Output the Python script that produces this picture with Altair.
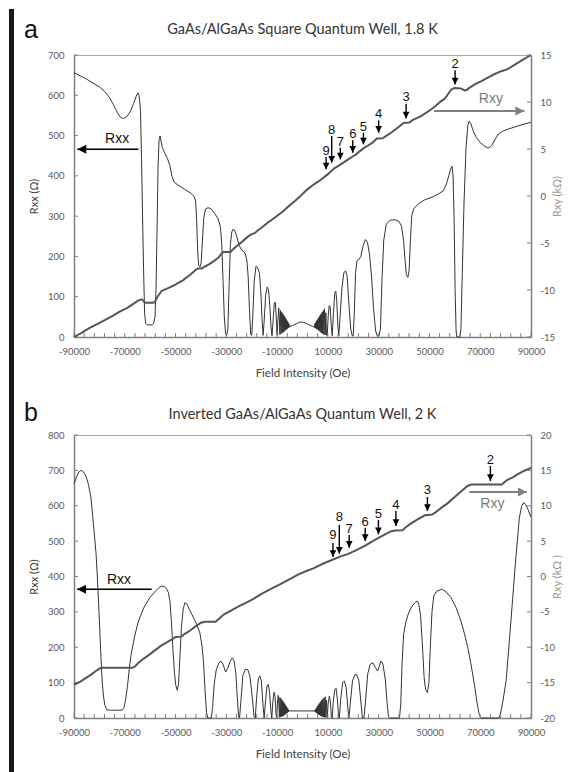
import altair as alt
import pandas as pd

FONT = "Lato"
ARIAL = "Liberation Sans"
AXC = "#7f7f7f"
W = 457
H_A = 282
H_B = 283

X_DOMAIN = [-90000, 90000]
X_LABELS = [-90000, -70000, -50000, -30000, -10000, 10000, 30000, 50000, 70000, 90000]
X_TICKS = list(range(-90000, 90001, 4000))

A_RXX_TICKS = [0, 100, 200, 300, 400, 500, 600, 700]
A_RXY_TICKS = [-15, -10, -5, 0, 5, 10, 15]
B_RXX_TICKS = [0, 100, 200, 300, 400, 500, 600, 700, 800]
B_RXY_TICKS = [-20, -15, -10, -5, 0, 5, 10, 15, 20]

# ---------------- Panel a: Rxx (ohm) vs field (Oe) ----------------
A_RXX = [
    (-90000, 656), (-87500, 648), (-85000, 640), (-82500, 630), (-80000, 621), (-78000, 610),
    (-76200, 596), (-74500, 577), (-73000, 558), (-71800, 546), (-70500, 542), (-69200, 547),
    (-67800, 560), (-66500, 580), (-65500, 598), (-64800, 606), (-64300, 598), (-63800, 560),
    (-63400, 440), (-63000, 300), (-62600, 170), (-62200, 60), (-61800, 34), (-61200, 30),
    (-59200, 30), (-58600, 34), (-58100, 50), (-57700, 120), (-57300, 260), (-56900, 420),
    (-56500, 490), (-56100, 499), (-55700, 486), (-55200, 470), (-54300, 457), (-53200, 443),
    (-52200, 425), (-51400, 398), (-50500, 384), (-49000, 377), (-46500, 367), (-44000, 357),
    (-42800, 350), (-42100, 338), (-41700, 290), (-41300, 215), (-40900, 178), (-40400, 174),
    (-39900, 185), (-39400, 240), (-38900, 295), (-38200, 318), (-37200, 321), (-36000, 318),
    (-34600, 307), (-33200, 293), (-32300, 272), (-31800, 230), (-31300, 140), (-30800, 50),
    (-30300, 8), (-29900, 3), (-29400, 20), (-28900, 130), (-28400, 230), (-27800, 262),
    (-27200, 268), (-26600, 262), (-25900, 250), (-25000, 228), (-24000, 216), (-23200, 213),
    (-22500, 206), (-21900, 190), (-21400, 150), (-20900, 70), (-20400, 6), (-20000, 4),
    (-19600, 50), (-19000, 140), (-18300, 176), (-17700, 172), (-17000, 160), (-16400, 110),
    (-15900, 40), (-15500, 4), (-15100, 40), (-14500, 105), (-13900, 124), (-13400, 118),
    (-12900, 80), (-12400, 25), (-12000, 3), (-11600, 40), (-11100, 85), (-10700, 86),
    (-10300, 45), (-10000, 4), (-9700, 40), (-9350, 72), (-9100, 45), (-8900, 6),
    (-8650, 66), (-8420, 8), (-8200, 62), (-7990, 10), (-7790, 58), (-7600, 12), (-7420, 55),
    (-7250, 14), (-7090, 51), (-6940, 16), (-6800, 48), (-6660, 17), (-6530, 45), (-6400, 19),
    (-6280, 42), (-6160, 20), (-6050, 40), (-5940, 21), (-5840, 37), (-5740, 22), (-5650, 35),
    (-5560, 23), (-5470, 33), (-5380, 24), (-5300, 31), (-5220, 25), (-5000, 26), (-4000, 28),
    (-3000, 31), (-2000, 34), (-1000, 37), (0, 37), (1000, 35), (2000, 32), (3000, 29),
    (4000, 26), (4600, 25), (4700, 24), (4780, 31), (4860, 24), (4950, 33), (5040, 23),
    (5140, 35), (5240, 22), (5350, 37), (5460, 21), (5580, 40), (5700, 20), (5830, 42),
    (5960, 19), (6100, 45), (6240, 17), (6390, 48), (6540, 16), (6700, 51), (6860, 14),
    (7030, 55), (7200, 12), (7380, 58), (7570, 10), (7770, 62), (7980, 8), (8200, 66),
    (8430, 6), (8670, 70), (8920, 5), (9200, 60), (9450, 4), (9750, 4), (10100, 50),
    (10500, 78), (10900, 75), (11300, 30), (11700, 3), (12200, 60), (12700, 108), (13100, 114),
    (13500, 90), (13900, 30), (14300, 3), (14800, 50), (15500, 120), (16300, 160), (17000, 164),
    (17600, 150), (18300, 80), (19000, 20), (19600, 3), (20000, 3), (20400, 60), (20900, 160),
    (21500, 190), (22300, 193), (23000, 200), (23800, 225), (24800, 242), (25600, 235),
    (26400, 205), (27200, 150), (28000, 70), (28800, 15), (29500, 2), (30100, 2), (30700, 20),
    (31300, 140), (32000, 240), (33000, 280), (34500, 290), (36500, 291), (38000, 287),
    (39000, 275), (39800, 240), (40400, 190), (40900, 155), (41500, 148), (42000, 165),
    (42500, 240), (43000, 300), (43800, 318), (45500, 330), (48000, 340), (51000, 347),
    (53500, 355), (55500, 363), (56700, 380), (57600, 400), (58400, 418), (58900, 424),
    (59300, 400), (59700, 300), (60100, 120), (60500, 15), (60800, 0), (62000, 0), (62400, 20),
    (62900, 150), (63600, 330), (64400, 470), (65100, 525), (65700, 536), (66300, 530),
    (67200, 512), (68500, 495), (70000, 483), (71500, 475), (72700, 470), (73600, 470),
    (74600, 476), (75800, 490), (77200, 504), (78900, 511), (81000, 516), (84000, 522),
    (87000, 528), (90000, 533),
]

# ---------------- Panel a: Rxy (kohm) vs field (Oe) ----------------
A_RXY = [
    (-90000, -15.0), (-87000, -14.55), (-84000, -14.05), (-80700, -13.6), (-77500, -13.15),
    (-74800, -12.75), (-72000, -12.3), (-69000, -11.9), (-66500, -11.45), (-64600, -11.1),
    (-63300, -11.0), (-62200, -11.3), (-61800, -11.36), (-58600, -11.36), (-58000, -11.2),
    (-57300, -10.8), (-55500, -10.1), (-52500, -9.75), (-49900, -9.4), (-47000, -8.95),
    (-44100, -8.35), (-42000, -7.85), (-41200, -7.7), (-39700, -7.7), (-38500, -7.5),
    (-36700, -7.25), (-34800, -6.9), (-33100, -6.55), (-32000, -6.15), (-31200, -5.96),
    (-28400, -5.96), (-27400, -5.7), (-25800, -5.3), (-23500, -4.8), (-21400, -4.3),
    (-20000, -4.05), (-18800, -3.95), (-17800, -3.7), (-16300, -3.4), (-14000, -2.9),
    (-11900, -2.5), (-9700, -2.05), (-7500, -1.6), (-5300, -1.05), (-3100, -0.55),
    (-1000, -0.05), (1500, 0.6), (4000, 1.15), (6600, 1.6), (9900, 2.3), (12500, 2.94),
    (13500, 3.1), (15800, 3.5), (18000, 3.9), (19800, 4.2), (21100, 4.43), (22500, 4.75),
    (24400, 5.14), (26000, 5.4), (27700, 5.7), (29300, 6.12), (31600, 6.14), (32700, 6.35),
    (34900, 6.73), (37200, 7.2), (39500, 7.69), (40300, 7.8), (42100, 7.82), (43500, 8.1),
    (46700, 8.5), (50600, 9.2), (52500, 9.6), (54600, 10.1), (56200, 10.4), (57200, 10.8),
    (58500, 11.3), (59800, 11.5), (62400, 11.45), (64000, 11.2), (65000, 11.35), (65700, 11.5),
    (68000, 11.9), (70300, 12.2), (73000, 12.6), (75500, 12.95), (78000, 13.25), (80800, 13.5),
    (83500, 13.95), (86500, 14.45), (90000, 15.0),
]

A_ARROW_N = ["9", "8", "7", "6", "5", "4", "3", "2"]
A_ARROW_B = [9300, 11500, 14900, 19800, 24000, 30000, 40800, 60100]
A_ARROW_TOP = [4.15, 6.38, 5.14, 5.92, 6.73, 8.05, 9.82, 13.37]
A_ARROW_TIP = [2.84, 3.54, 3.90, 4.60, 5.50, 6.73, 8.26, 11.88]
A_ARROW_LAB = [4.36, 6.63, 5.32, 6.14, 6.91, 8.26, 10.11, 13.65]

# ---------------- Panel b: Rxx (ohm) vs field (Oe) ----------------
B_RXX = [
    (-90000, 662), (-89000, 682), (-88000, 696), (-87200, 700), (-86300, 696), (-85300, 684),
    (-84300, 660), (-83300, 622), (-82300, 545), (-81300, 463), (-80600, 370), (-80000, 274),
    (-79400, 175), (-78900, 105), (-78400, 62), (-77800, 35), (-77000, 23), (-76000, 22),
    (-71000, 22), (-70300, 30), (-69700, 50), (-69000, 86), (-68200, 140), (-67500, 180),
    (-66000, 235), (-64600, 274), (-62500, 312), (-60200, 340), (-58000, 358), (-56500, 369),
    (-55500, 373), (-54500, 372), (-53600, 366), (-52800, 354), (-52200, 330), (-51600, 270),
    (-51000, 190), (-50400, 125), (-49900, 92), (-49300, 78), (-48800, 98), (-48300, 170),
    (-47700, 255), (-47000, 308), (-46300, 326), (-45500, 322), (-44500, 306), (-43500, 292),
    (-42600, 279), (-41500, 262), (-40400, 240), (-39600, 205), (-39000, 160), (-38400, 80),
    (-37800, 15), (-37300, 0), (-35900, 0), (-35400, 30), (-34800, 95), (-34000, 135),
    (-33000, 155), (-32100, 161), (-31200, 150), (-30300, 130), (-29500, 140), (-28500, 160),
    (-27700, 170), (-27000, 163), (-26300, 130), (-25700, 60), (-25200, 5), (-24800, 0),
    (-24300, 45), (-23500, 120), (-22500, 138), (-21500, 136), (-20700, 118), (-19800, 60),
    (-19100, 5), (-18600, 0), (-18100, 55), (-17400, 110), (-16800, 119), (-16200, 105),
    (-15600, 40), (-15100, 0), (-14600, 45), (-14000, 90), (-13500, 95), (-13000, 75),
    (-12500, 25), (-12100, 0), (-11700, 45), (-11200, 73), (-10800, 60), (-10400, 10),
    (-10150, 0), (-9850, 45), (-9550, 64), (-9300, 35), (-9100, 2),
    (-8870, 58), (-8650, 3), (-8440, 55), (-8240, 4), (-8050, 51), (-7870, 5), (-7700, 47),
    (-7540, 6), (-7390, 44), (-7250, 8), (-7110, 41), (-6980, 9), (-6850, 38), (-6730, 11),
    (-6610, 35), (-6500, 12), (-6390, 32), (-6290, 14), (-6190, 30), (-6090, 15), (-6000, 28),
    (-5910, 16), (-5820, 26), (-5740, 17), (-5660, 24), (-5580, 18), (-5500, 22), (-5400, 19),
    (-5200, 20), (-3000, 20), (0, 20), (3000, 20), (4800, 20), (4900, 22), (4980, 18),
    (5060, 23), (5140, 17), (5230, 25), (5320, 16), (5420, 27), (5520, 15), (5630, 29),
    (5740, 14), (5860, 32), (5980, 12), (6110, 35), (6240, 11), (6380, 38), (6520, 9),
    (6670, 41), (6820, 8), (6980, 44), (7140, 6), (7310, 47), (7480, 5), (7660, 51),
    (7850, 4), (8050, 54), (8260, 3), (8480, 57), (8710, 2), (8950, 60), (9200, 2),
    (9470, 50), (9750, 1), (10100, 40), (10600, 62), (11000, 45), (11400, 3), (11700, 0),
    (12100, 45), (12700, 80), (13200, 84), (13700, 55), (14200, 5), (14500, 0), (15000, 50),
    (15800, 100), (16500, 105), (17200, 85), (17900, 25), (18300, 0), (18800, 40),
    (19700, 105), (20600, 122), (21300, 123), (22200, 105), (23000, 45), (23600, 0),
    (24200, 0), (24800, 45), (25700, 125), (26700, 152), (27700, 156), (28700, 143),
    (29600, 133), (30300, 148), (30900, 161), (31700, 152), (32600, 110), (33300, 45),
    (33900, 2), (34300, 0), (38200, 0), (38700, 40), (39200, 150), (39800, 235), (40600, 268),
    (41600, 293), (43000, 315), (44300, 326), (45100, 331), (45800, 322), (46500, 290),
    (47200, 210), (47900, 115), (48500, 80), (49200, 72), (49800, 100), (50400, 210),
    (51000, 300), (51700, 345), (52800, 358), (54800, 364), (56500, 357), (58500, 340),
    (60500, 312), (62400, 274), (63800, 238), (65100, 199), (66400, 150), (67700, 95),
    (68700, 45), (69600, 10), (70300, 0), (77300, 0), (77900, 10), (79000, 50), (80200, 105),
    (81500, 220), (82800, 340), (84000, 450), (85400, 566), (86300, 598), (87100, 609),
    (87900, 603), (88800, 590), (90000, 568),
]

# ---------------- Panel b: Rxy (kohm) vs field (Oe) ----------------
B_RXY = [
    (-90000, -15.3), (-87500, -14.85), (-85100, -14.3), (-83000, -13.8), (-81400, -13.35),
    (-80200, -13.05), (-79200, -12.9), (-67000, -12.9), (-66000, -12.7), (-64600, -12.2),
    (-62500, -11.6), (-60200, -11.0), (-58000, -10.4), (-55800, -9.8), (-53500, -9.3),
    (-51400, -8.9), (-50000, -8.55), (-47800, -8.5), (-46500, -8.15), (-44100, -7.6),
    (-41800, -6.95), (-39700, -6.5), (-38300, -6.4), (-34200, -6.4), (-33000, -6.0),
    (-30900, -5.35), (-28000, -4.8), (-25000, -4.2), (-22500, -3.75), (-19500, -3.2),
    (-16300, -2.5), (-12600, -1.8), (-8900, -1.1), (-5200, -0.4), (-1600, 0.3), (2000, 0.85),
    (4300, 1.15), (8000, 1.8), (12000, 2.4), (15000, 2.85), (18000, 3.2), (21000, 3.7),
    (24700, 4.35), (27500, 4.95), (29900, 5.45), (32500, 5.95), (35000, 6.4), (36500, 6.5),
    (39400, 6.55), (40500, 6.9), (42300, 7.4), (45000, 8.0), (48200, 8.65), (51100, 8.75),
    (52500, 9.1), (55000, 9.8), (57000, 10.3), (60500, 11.4), (63000, 12.2), (65000, 12.8),
    (66500, 13.0), (78500, 13.0), (80400, 13.6), (82800, 14.0), (85000, 14.5), (87400, 14.95),
    (90000, 15.35),
]

B_ARROW_N = ["9", "8", "7", "6", "5", "4", "3", "2"]
B_ARROW_B = [12000, 14500, 18400, 24700, 29900, 36800, 49200, 74000]
B_ARROW_TOP = [4.74, 7.28, 5.87, 6.90, 7.99, 9.26, 11.24, 15.62]
B_ARROW_TIP = [2.76, 3.23, 4.08, 5.02, 5.97, 7.14, 9.26, 13.50]
B_ARROW_LAB = [5.30, 7.85, 6.20, 7.14, 8.31, 9.59, 11.62, 15.86]

# horizontal "Rxx" / "Rxy" arrows: (start B, tip B, level, text B, text level)
A_RXX_ARROW = (-64600, -88700, 466, -73000, 482)
A_RXY_ARROW = (51800, 87400, 9.04, 74200, 9.93)
B_RXX_ARROW = (-59400, -88800, 364, -72300, 378)
B_RXY_ARROW = (65700, 88400, 11.95, 74800, 9.64)

DOWN = "M-1,-1L1,-1L0,1Z"
LEFT = "M1,-1L1,1L-1,0Z"
RIGHT = "M-1,-1L-1,1L1,0Z"


def build_panel(h, rxx_pts, rxy_pts, rxx_ticks, rxy_ticks, rxy_title, arr, rxx_arrow, rxy_arrow,
                title, title_y, letter, letter_y, frame):
    xs = alt.Scale(domain=X_DOMAIN, nice=False, zero=False)
    sl = alt.Scale(domain=[rxx_ticks[0], rxx_ticks[-1]], nice=False, zero=False)
    sr = alt.Scale(domain=[rxy_ticks[0], rxy_ticks[-1]], nice=False, zero=False)

    x_axis = alt.Axis(values=X_LABELS, labelExpr="'' + datum.value", ticks=False, grid=False,
                      domainColor=AXC, domainWidth=1.5, labelFont=FONT, labelFontSize=9.5,
                      labelColor="#595959", labelPadding=9, labelFlush=False, labelOverlap=False,
                      title="Field Intensity (Oe)", titleFont=FONT, titleFontSize=11.5,
                      titleFontWeight="normal", titleColor="#404040", titlePadding=12)
    yl_axis = alt.Axis(values=rxx_ticks, labelExpr="'' + datum.value", ticks=False, grid=False,
                       tickCount=len(rxx_ticks), domainColor=AXC, domainWidth=1.5,
                       labelFont=FONT, labelFontSize=9.5,
                       labelColor="#595959", labelPadding=10, labelOverlap=False,
                       labelFlush=False, title="Rxx (Ω)", titleFont=FONT,
                       titleFontSize=11, titleFontWeight="normal", titleColor="#404040",
                       titlePadding=8)
    yr_axis = alt.Axis(orient="right", values=rxy_ticks, labelExpr="'' + datum.value", ticks=False,
                       tickCount=len(rxy_ticks), grid=False, domainColor=AXC, domainWidth=1.5,
                       labelFont=FONT,
                       labelFontSize=9.5, labelColor="#595959", labelPadding=9,
                       labelOverlap=False, labelFlush=False, title=rxy_title,
                       titleFont=FONT, titleFontSize=11, titleFontWeight="normal",
                       titleColor="#999999", titlePadding=8, titleAngle=270)

    def XL(field):
        return alt.X(field, scale=xs, axis=x_axis)

    def YL(field):
        return alt.Y(field, scale=sl, axis=yl_axis)

    def YR(field):
        return alt.Y(field, scale=sr, axis=yr_axis)

    df_l = pd.DataFrame(rxx_pts, columns=["B", "V"])
    df_r = pd.DataFrame(rxy_pts, columns=["B", "V"])

    rxx_line = alt.Chart(df_l).mark_line(color="#333333", strokeWidth=1).encode(
        x=XL("B:Q"), y=YL("V:Q"))
    left_ticks = alt.Chart(pd.DataFrame({"V": rxx_ticks})).mark_rule(color=AXC).encode(
        x=alt.value(0), x2=alt.value(4), y=YL("V:Q"))
    x_ticks = alt.Chart(pd.DataFrame({"B": X_TICKS})).mark_rule(color=AXC).encode(
        x=XL("B:Q"), y=alt.value(h - 4), y2=alt.value(h))

    b1, b2, lv, tb, tv = rxx_arrow
    xa = pd.DataFrame({"B": [b1], "B2": [b2], "V": [lv], "TB": [tb], "TV": [tv], "T": ["Rxx"]})
    xx_shaft = alt.Chart(xa).mark_rule(color="black", strokeWidth=1.5).encode(
        x=XL("B:Q"), x2="B2:Q", y=YL("V:Q"))
    xx_head = alt.Chart(xa).mark_point(shape=LEFT, filled=True, size=81, color="black",
                                       opacity=1, strokeWidth=0, xOffset=4.5).encode(
        x=XL("B2:Q"), y=YL("V:Q"))
    xx_text = alt.Chart(xa).mark_text(font=ARIAL, fontSize=14, color="#111111",
                                      baseline="alphabetic").encode(
        x=XL("TB:Q"), y=YL("TV:Q"), text="T:N")

    ttl = alt.Chart(pd.DataFrame({"T": [title]})).mark_text(
        font=FONT, fontSize=14.5, color="#333333", baseline="alphabetic").encode(
        x=alt.value(W / 2), y=alt.value(title_y), text="T:N")
    let = alt.Chart(pd.DataFrame({"T": [letter]})).mark_text(
        font=ARIAL, fontSize=25, color="#111111", baseline="alphabetic").encode(
        x=alt.value(-43), y=alt.value(letter_y), text="T:N")

    left_layers = [rxx_line, left_ticks, x_ticks, xx_shaft, xx_head, xx_text, ttl, let]
    if frame:
        fr = alt.Chart(pd.DataFrame({"T": ["f"]})).mark_rect(color="#1a1a1a").encode(
            x=alt.value(-65), x2=alt.value(-60), y=alt.value(-46), y2=alt.value(718))
        left_layers.append(fr)
    left = alt.layer(*left_layers)

    rxy_line = alt.Chart(df_r).mark_line(color="#555555", strokeWidth=2).encode(
        x=XL("B:Q"), y=YR("V:Q"))
    right_ticks = alt.Chart(pd.DataFrame({"V": rxy_ticks})).mark_rule(color=AXC).encode(
        x=alt.value(W - 4), x2=alt.value(W), y=YR("V:Q"))

    n, bb, top, tip, lab = arr
    da = pd.DataFrame({"N": n, "B": bb, "Top": top, "Tip": tip, "Lab": lab})
    shafts = alt.Chart(da).mark_rule(color="black", strokeWidth=1.4).encode(
        x=XL("B:Q"), y=YR("Top:Q"), y2="Tip:Q")
    heads = alt.Chart(da).mark_point(shape=DOWN, filled=True, size=45, color="black", opacity=1,
                                     strokeWidth=0, yOffset=-3.3).encode(
        x=XL("B:Q"), y=YR("Tip:Q"))
    nums = alt.Chart(da).mark_text(font=ARIAL, fontSize=13, color="#111111",
                                   baseline="alphabetic").encode(
        x=XL("B:Q"), y=YR("Lab:Q"), text="N:N")

    b1, b2, lv, tb, tv = rxy_arrow
    ya = pd.DataFrame({"B": [b1], "B2": [b2], "V": [lv], "TB": [tb], "TV": [tv], "T": ["Rxy"]})
    yy_shaft = alt.Chart(ya).mark_rule(color="#808080", strokeWidth=2).encode(
        x=XL("B:Q"), x2="B2:Q", y=YR("V:Q"))
    yy_head = alt.Chart(ya).mark_point(shape=RIGHT, filled=True, size=81, color="#808080",
                                       opacity=1, strokeWidth=0, xOffset=-4.5).encode(
        x=XL("B2:Q"), y=YR("V:Q"))
    yy_text = alt.Chart(ya).mark_text(font=ARIAL, fontSize=14, color="#7a7a7a",
                                      baseline="alphabetic").encode(
        x=XL("TB:Q"), y=YR("TV:Q"), text="T:N")

    right = alt.layer(rxy_line, right_ticks, shafts, heads, nums, yy_shaft, yy_head, yy_text)
    return alt.layer(left, right).resolve_scale(y="independent").properties(width=W, height=h)


panel_a = build_panel(H_A, A_RXX, A_RXY, A_RXX_TICKS, A_RXY_TICKS, "Rxy (kΩ)",
                      (A_ARROW_N, A_ARROW_B, A_ARROW_TOP, A_ARROW_TIP, A_ARROW_LAB),
                      A_RXX_ARROW, A_RXY_ARROW,
                      "GaAs/AlGaAs Square Quantum Well, 1.8 K", -21, "a", -17, True)
panel_b = build_panel(H_B, B_RXX, B_RXY, B_RXX_TICKS, B_RXY_TICKS, "Rxy (kΩ )",
                      (B_ARROW_N, B_ARROW_B, B_ARROW_TOP, B_ARROW_TIP, B_ARROW_LAB),
                      B_RXX_ARROW, B_RXY_ARROW,
                      "Inverted GaAs/AlGaAs Quantum Well, 2 K", -16, "b", -14, False)

chart = alt.vconcat(panel_a, panel_b, spacing=98, bounds="flush").properties(
    padding=0, background="white"
).configure_view(stroke="#a6a6a6", strokeWidth=1)

chart.save("out.html", embed_options={"renderer": "svg", "actions": False})
